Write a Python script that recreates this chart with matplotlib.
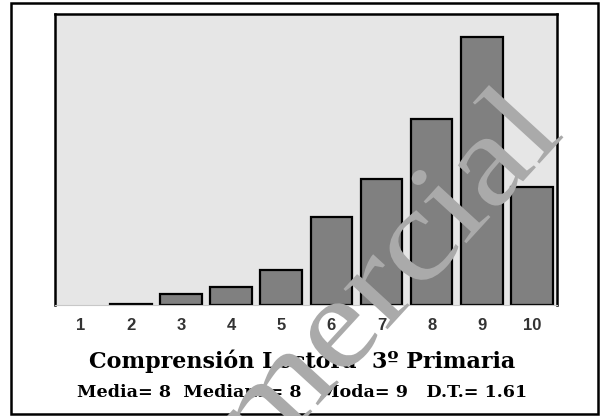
import matplotlib.pyplot as plt
from matplotlib.patches import Rectangle, PathPatch
from matplotlib.textpath import TextPath
from matplotlib.font_manager import FontProperties
from matplotlib.transforms import Affine2D

# scores 1..10, share of pupils (%)
categories = [1, 2, 3, 4, 5, 6, 7, 8, 9, 10]
values = [0, 0.1, 1.3, 2.1, 4.1, 10.3, 14.8, 21.9, 31.5, 13.9]

title = "Comprensión Lectora  3º Primaria"
stats = "Media= 8  Mediana= 8   Moda= 9   D.T.= 1.61"
watermark = "comercial"

W, H = 602, 416
fig = plt.figure(figsize=(W / 100, H / 100), dpi=100)
fig.patch.set_facecolor("white")

# outer frame
fig.patches.append(Rectangle((11 / W, 2 / H), 587 / W, 411 / H,
                             transform=fig.transFigure, fill=False,
                             edgecolor="black", linewidth=1.8))

ax = fig.add_axes([55.5 / W, 1 - 305 / H, 501.5 / W, 291 / H])
ax.set_facecolor("#e6e6e6")
# empty categories get no bar at all
shown = [(c, v) for c, v in zip(categories, values) if v > 0]
ax.bar([c for c, v in shown], [v for c, v in shown], width=0.83,
       color="#808080", edgecolor="black", linewidth=1.6, zorder=2)
ax.set_xlim(0.5, 10.5)
ax.set_ylim(0, 34.2)
ax.set_yticks([])
ax.set_xticks(categories)
ax.set_xticklabels([str(c) for c in categories], fontsize=12, fontweight="bold",
                   color="#333333", family="Liberation Sans")
ax.tick_params(axis="x", length=0, pad=9)
for s in ["left", "top", "right"]:
    ax.spines[s].set_linewidth(1.8)
ax.spines["bottom"].set_color("#c8c8c8")
ax.spines["bottom"].set_linewidth(0.8)

fig.text(0.5025, (H - 368) / H, title, ha="center", va="baseline",
         fontsize=16, fontweight="bold", family="DejaVu Serif")
fig.text(0.5025, (H - 397) / H, stats, ha="center", va="baseline",
         fontsize=12.6, fontweight="bold", family="DejaVu Serif")

# wide, rotated watermark drawn over everything (pixel units -> figure)
tp = TextPath((0, 0), watermark, size=130,
              prop=FontProperties(family="Liberation Serif"))
wm_tr = (Affine2D().scale(150 / 130, 1).rotate_deg(47.5).translate(166, -155)
         .scale(1 / W, 1 / H) + fig.transFigure)
wm = PathPatch(tp, transform=wm_tr, facecolor="#aaaaaa", edgecolor="none",
               zorder=10)
fig.add_artist(wm)

fig.savefig("out.png", dpi=100)
